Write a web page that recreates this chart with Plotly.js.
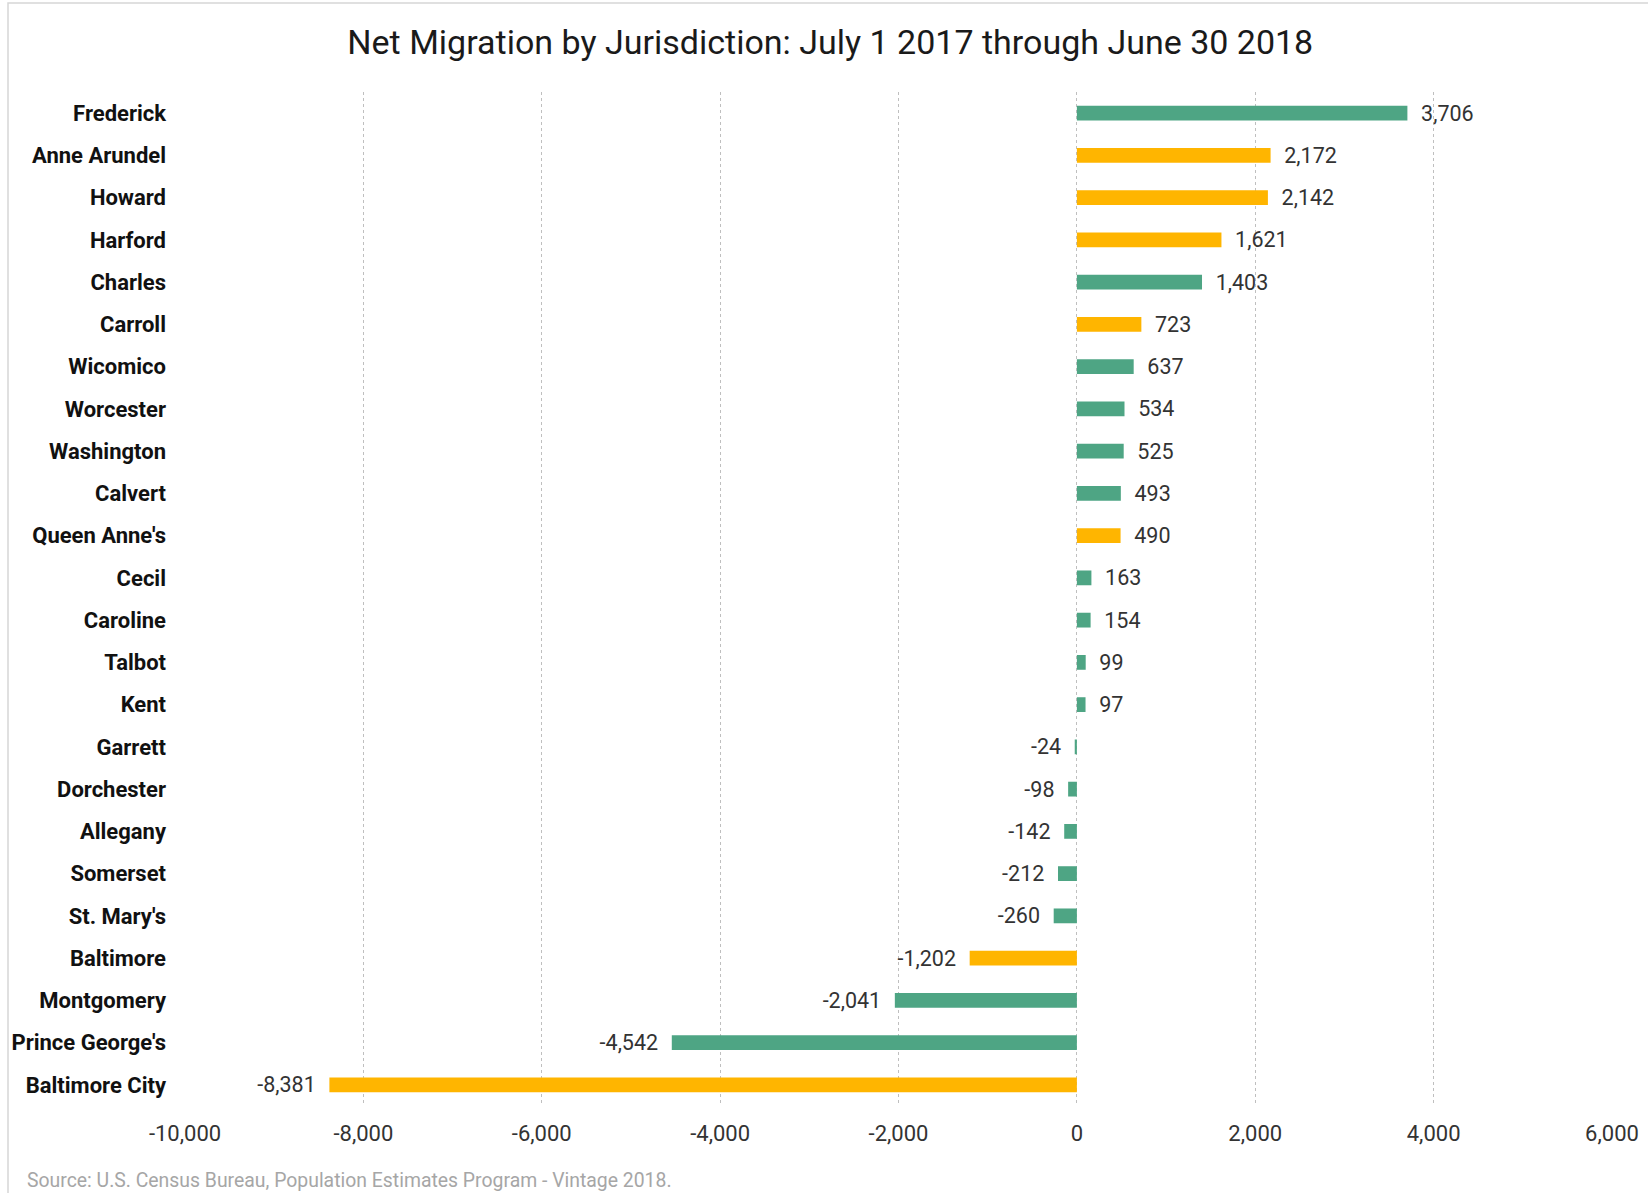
<!DOCTYPE html>
<html>
<head>
<meta charset="utf-8">
<script src="https://cdn.plot.ly/plotly-3.0.1.min.js"></script>
<style>
  html, body { margin: 0; padding: 0; background: #fff; }
  #chart { width: 1648px; height: 1193px; }
</style>
</head>
<body>
<div id="chart"></div>
<script>
const jurisdictions = [
  "Frederick", "Anne Arundel", "Howard", "Harford", "Charles", "Carroll",
  "Wicomico", "Worcester", "Washington", "Calvert", "Queen Anne's", "Cecil",
  "Caroline", "Talbot", "Kent", "Garrett", "Dorchester", "Allegany",
  "Somerset", "St. Mary's", "Baltimore", "Montgomery", "Prince George's", "Baltimore City"
];
const netMigration = [
  3706, 2172, 2142, 1621, 1403, 723,
  637, 534, 525, 493, 490, 163,
  154, 99, 97, -24, -98, -142,
  -212, -260, -1202, -2041, -4542, -8381
];
// 1 = Baltimore region (yellow), 0 = other (green)
const baltimoreRegion = [
  0, 1, 1, 1, 0, 1,
  0, 0, 0, 0, 1, 0,
  0, 0, 0, 0, 0, 0,
  0, 0, 1, 0, 0, 1
];
const tickValues = [-10000, -8000, -6000, -4000, -2000, 0, 2000, 4000, 6000];
const tickLabels = ["-10,000", "-8,000", "-6,000", "-4,000", "-2,000", "0", "2,000", "4,000", "6,000"];

const GREEN = "#4EA584";
const YELLOW = "#FFB500";
const NB = "\u00a0\u00a0";

const barColors = baltimoreRegion.map(r => r ? YELLOW : GREEN);
const barText = netMigration.map(v => NB + v.toLocaleString("en-US") + NB);

const trace = {
  type: "bar",
  orientation: "h",
  x: netMigration,
  y: jurisdictions,
  marker: { color: barColors, line: { width: 0 } },
  text: barText,
  textposition: "outside",
  constraintext: "none",
  cliponaxis: false,
  textfont: { family: "Roboto, sans-serif", size: 21.5, color: "#333333" },
  hoverinfo: "x+y"
};

const L = 185, R = 36, T = 92, B = 87, W = 1648, H = 1193;
const pw = W - L - R, ph = H - T - B;
const px2x = p => (p - L) / pw;
const px2y = p => (H - B - p) / ph;

const layout = {
  width: W,
  height: H,
  margin: { l: L, r: R, t: T, b: B, pad: 0 },
  paper_bgcolor: "#ffffff",
  plot_bgcolor: "#ffffff",
  showlegend: false,
  bargap: 0.65,
  font: { family: "Roboto, sans-serif", color: "#333333" },
  title: {
    text: "Net Migration by Jurisdiction: July 1 2017 through June 30 2018",
    font: { family: "Roboto, sans-serif", size: 34, color: "#1a1a1a" },
    x: 0.5038, xanchor: "center", xref: "container",
    y: 1 - 42 / H, yanchor: "middle", yref: "container"
  },
  xaxis: {
    range: [-10000, 6000],
    tickmode: "array",
    tickvals: tickValues,
    ticktext: tickLabels,
    showgrid: true,
    gridcolor: "#BFBFBF",
    griddash: "dot",
    gridwidth: 1,
    zeroline: false,
    showline: false,
    ticks: "",
    ticklabelstandoff: 12,
    tickfont: { family: "Roboto, sans-serif", size: 22, color: "#333333" },
    fixedrange: true
  },
  yaxis: {
    type: "category",
    autorange: "reversed",
    showgrid: false,
    zeroline: false,
    showline: false,
    ticks: "",
    ticklabelstandoff: 18,
    tickfont: { family: "Roboto, sans-serif", size: 22, color: "#111111", weight: "bold" },
    fixedrange: true
  },
  shapes: [
    {
      type: "rect", xref: "paper", yref: "paper", layer: "below",
      x0: px2x(8), x1: px2x(1652), y0: px2y(1197), y1: px2y(3),
      line: { color: "#D6D6D6", width: 1.5 }, fillcolor: "rgba(0,0,0,0)"
    }
  ],
  annotations: [
    {
      xref: "paper", yref: "paper",
      x: px2x(25), y: px2y(1180),
      xanchor: "left", yanchor: "middle",
      showarrow: false,
      text: "Source: U.S. Census Bureau, Population Estimates Program - Vintage 2018.",
      font: { family: "Roboto, sans-serif", size: 19.4, color: "#A6A6A6" }
    }
  ]
};

Plotly.newPlot("chart", [trace], layout, { displayModeBar: false, staticPlot: true });
</script>
</body>
</html>
